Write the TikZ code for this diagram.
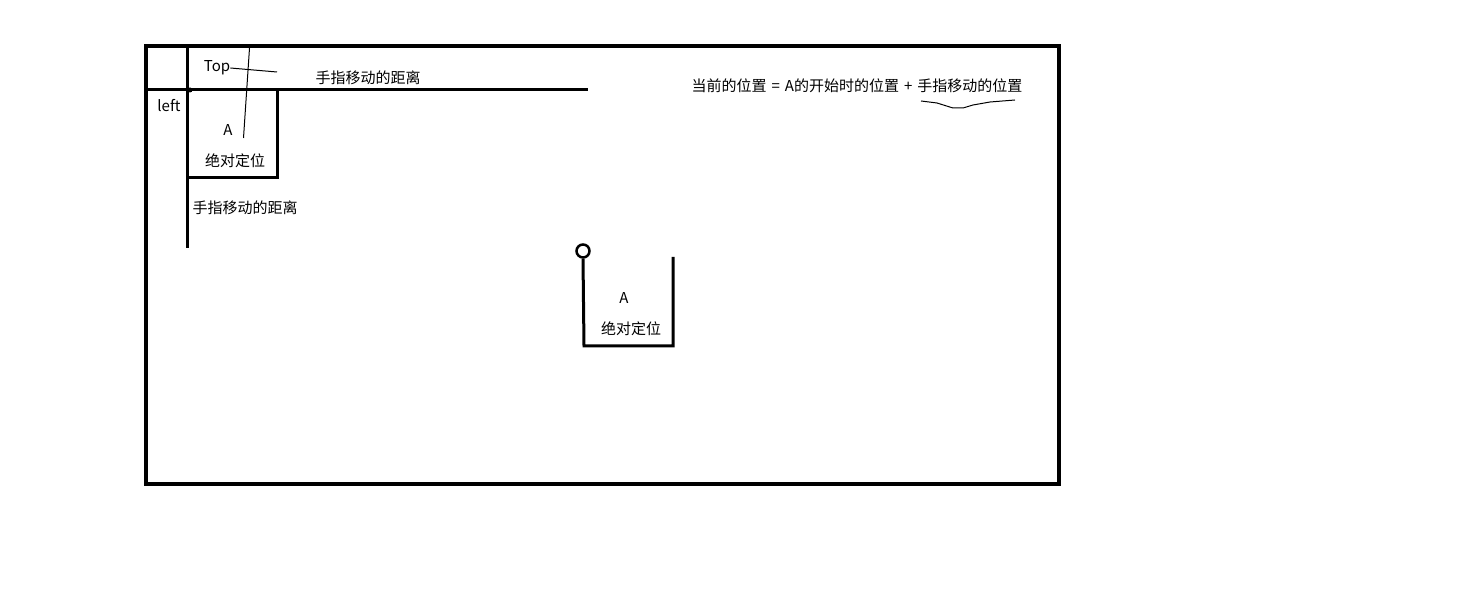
\documentclass[tikz,border=0pt]{standalone}
\usepackage{fontspec}
\setmainfont{Noto Sans CJK SC}
\begin{document}
\begin{tikzpicture}[x=1pt,y=-1pt,
  thick3/.style={line width=3pt},
  thick4/.style={line width=4pt},
  thin1/.style={line width=1pt},
  lbl/.style={inner sep=0pt,font=\fontsize{15pt}{17pt}\selectfont}]
\useasboundingbox (0,0) rectangle (1481,601);
% outer frame
\draw[thick4] (146,46) rectangle (1059,484);
% coordinates
\coordinate (vtop) at (187,46);
\coordinate (vbot) at (187,248);
\coordinate (hl) at (146,90);
\coordinate (hr) at (588,90);
\draw[thick3] (vtop) -- (vbot);
\draw[thick3] (hl) -- (hr);
\fill (190,90) circle (2.5);
% box A
\draw[thick3] (187,90) -- (277,90) -- (277,178) -- (187,178);
% thin lines
\coordinate (t1) at (249.5,48);
\coordinate (t2) at (243.5,138);
\draw[thin1] (t1) -- (t2);
\node[lbl] (top) at (217,68) {Top};
\coordinate (tl) at (277,72);
\draw[thin1] (top.east) -- (tl);
\node[lbl] (left) at (169,106) {left};
\node[lbl] (a1) at (228,130) {A};
\node[lbl] (abs1) at (235,161) {绝对定位};
\node[lbl] (dist1) at (368,78) {手指移动的距离};
\node[lbl] (dist2) at (245,208) {手指移动的距离};
% second box
\node[circle,draw,line width=2.5pt,minimum size=13pt,inner sep=0pt] (c) at (583,251) {};
\coordinate (bl) at (584,346);
\coordinate (br) at (673,346);
\coordinate (brt) at (673,257);
\draw[thick3] (c.south) -- (bl) -- (br) -- (brt);
\node[lbl] (a2) at (624,298) {A};
\node[lbl] (abs2) at (631,329) {绝对定位};
% formula
\node[lbl] (formula) at (857,86) {当前的位置\hspace{5pt}=\hspace{5pt}A的开始时的位置\hspace{5pt}+\hspace{5pt}手指移动的位置};
\draw[thin1] (921,101) -- (937,103) -- (953,108) -- (963,108) -- (973,105) -- (990,102) -- (1015,100);
\end{tikzpicture}
\end{document}
